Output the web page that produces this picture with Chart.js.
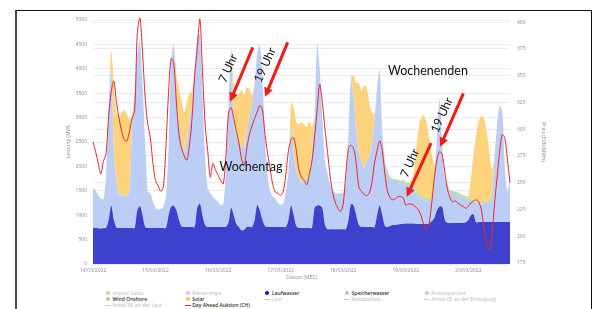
<!DOCTYPE html>
<html>
<head>
<meta charset="utf-8">
<script src="https://cdn.jsdelivr.net/npm/chart.js@4.4.1/dist/chart.umd.min.js"></script>
<style>
  html, body { margin: 0; padding: 0; background: #fff; }
  body { width: 595px; height: 309px; position: relative; overflow: hidden; font-family: 'Open Sans', sans-serif; }
  .frame { position: absolute; left: 15px; top: 10px; width: 574px; height: 320px;
           border-top: 1px solid #111; border-left: 2px solid #4a4a4a; border-right: 1px solid #111; }
  .wrap { position: absolute; left: 0; top: 0; width: 595px; height: 290px; }
  .legend { position: absolute; left: 105px; top: 290px; display: grid;
            grid-template-columns: repeat(5, 79.7px); grid-auto-rows: 6px;
            font-size: 5px; line-height: 6px; font-weight: 600; white-space: nowrap; }
  .legend-item { display: flex; align-items: center; }
  .sym { width: 6px; height: 6px; display: inline-flex; align-items: center; justify-content: center; margin-right: 1.5px; }
  .dot { width: 4px; height: 4px; border-radius: 50%; }
  .dash { width: 6px; height: 1px; }
</style>
</head>
<body>
<div class="frame"></div>
<div class="wrap"><canvas id="mixChart"></canvas></div>
<div class="legend" id="mixLegend"></div>
<script>
// ── DATA (hourly, 14/03/2022 00:00 .. 20/03/2022 16:00) ──
const days = ['14/03/2022', '15/03/2022', '16/03/2022', '17/03/2022', '18/03/2022', '19/03/2022', '20/03/2022'];

const laufwasser = [
  740, 745, 735, 730, 735, 740, 900, 1200, 900, 750, 740, 740, 740, 740, 740, 740, 740, 1100, 1190, 1000, 760, 740, 740, 740,
  740, 740, 740, 740, 740, 1000, 1180, 1190, 1100, 900, 770, 760, 760, 760, 760, 760, 1150, 1240, 1000, 800, 760, 760, 760, 760,
  760, 760, 760, 760, 850, 1150, 1000, 820, 760, 690, 700, 760, 760, 760, 900, 1210, 1100, 900, 780, 760, 760, 760, 760, 760,
  760, 760, 760, 900, 1200, 1000, 780, 740, 740, 740, 740, 740, 740, 1150, 1200, 1200, 1150, 800, 710, 710, 710, 710, 710, 710,
  710, 710, 900, 1230, 1200, 1000, 800, 760, 760, 760, 760, 760, 760, 1000, 1200, 1000, 780, 760, 780, 800, 800, 810, 820, 820,
  830, 830, 830, 830, 820, 820, 820, 820, 820, 830, 880, 950, 1100, 1180, 1170, 900, 840, 840, 840, 840, 840, 840, 840, 850,
  900, 1000, 1020, 850, 860, 860, 860, 860, 860, 860, 860, 860, 860, 860, 860, 860, 860
];

const speicherwasser = [
  806, 765, 665, 610, 585, 1060, 2300, 2800, 1400, 900, 710, 660, 650, 660, 760, 2060, 2760, 3200, 3360, 2700, 1740, 740, 700, 540,
  410, 370, 380, 430, 660, 1400, 3020, 3260, 2300, 2000, 1730, 1540, 1740, 2140, 2540, 3240, 3500, 3460, 2500, 1400, 790, 690, 620, 560,
  500, 440, 470, 1140, 2450, 3150, 1900, 1780, 1740, 1690, 1680, 1940, 2240, 2490, 2800, 3090, 3380, 2900, 1820, 1040, 720, 620, 570, 480,
  450, 470, 740, 1000, 1600, 1300, 1120, 1010, 910, 960, 1010, 1060, 1560, 1850, 3300, 2800, 1850, 1300, 1140, 910, 780, 740, 730, 730,
  760, 990, 1700, 2570, 2200, 1700, 1500, 1340, 1190, 1340, 1440, 1640, 2140, 2600, 2750, 1700, 1320, 1120, 970, 900, 880, 870, 830, 860,
  790, 790, 770, 730, 630, 580, 530, 500, 480, 460, 410, 750, 1500, 2170, 1230, 800, 740, 610, 600, 580, 570, 540, 520, 490,
  400, 280, 250, 410, 380, 380, 380, 390, 410, 490, 1240, 1940, 2340, 2240, 1140, 590, 840
];

const windOnshore = [
  8, 8, 8, 9, 9, 9, 10, 10, 10, 10, 10, 10, 10, 10, 10, 10, 10, 10, 10, 10, 9, 9, 9, 9,
  9, 9, 9, 9, 9, 9, 10, 10, 10, 10, 10, 10, 10, 10, 10, 10, 10, 10, 10, 10, 10, 10, 10, 10,
  10, 10, 10, 10, 10, 10, 10, 10, 10, 10, 10, 10, 10, 10, 10, 10, 10, 10, 10, 10, 10, 10, 10, 10,
  10, 10, 10, 10, 10, 10, 10, 10, 10, 10, 10, 10, 10, 10, 10, 10, 10, 10, 10, 10, 10, 10, 10, 10,
  10, 10, 10, 10, 10, 10, 10, 10, 10, 10, 10, 10, 15, 20, 25, 30, 35, 40, 45, 50, 50, 50, 50, 50,
  50, 50, 50, 50, 45, 40, 40, 40, 40, 40, 40, 40, 40, 40, 45, 50, 55, 60, 60, 60, 60, 55, 55, 50,
  50, 45, 40, 35, 30, 30, 30, 30, 30, 35, 40, 40, 40, 40, 40, 40, 40
];

const solar = [
  0, 0, 0, 0, 0, 0, 0, 350, 1400, 1450, 1550, 1700, 1760, 1650, 1450, 250, 50, 0, 0, 0, 0, 0, 0, 0,
  0, 0, 0, 0, 0, 0, 0, 50, 470, 700, 820, 800, 800, 600, 220, 50, 0, 0, 0, 0, 0, 0, 0, 0,
  0, 0, 0, 0, 0, 100, 800, 800, 1000, 1170, 1070, 900, 580, 200, 50, 0, 0, 0, 0, 0, 0, 0, 0, 0,
  0, 0, 0, 0, 500, 900, 1000, 1100, 1250, 1150, 1050, 1100, 500, 50, 0, 0, 0, 0, 0, 0, 0, 0, 0, 0,
  0, 0, 0, 50, 450, 1000, 1400, 1450, 1700, 1500, 1100, 700, 150, 0, 0, 0, 0, 0, 0, 0, 0, 0, 0, 0,
  0, 0, 50, 240, 850, 1350, 1630, 1680, 1550, 1260, 910, 300, 0, 0, 0, 0, 0, 0, 0, 0, 0, 0, 0, 0,
  50, 420, 930, 1340, 1660, 1760, 1710, 1450, 1030, 550, 50, 0, 0, 0, 0, 0, 0
];

const dayAheadCH = [
  288, 279, 268, 258, 270, 277, 312, 335, 345, 325, 310, 298, 290, 289, 298, 310, 318, 390, 404, 372, 330, 305, 292, 268,
  252, 247, 242, 246, 285, 335, 366, 362, 325, 295, 282, 275, 271, 285, 310, 350, 375, 403, 355, 305, 280, 255, 268, 262,
  257, 252, 249, 275, 315, 320, 310, 298, 287, 272, 266, 282, 295, 303, 310, 316, 322, 318, 295, 277, 262, 248, 241, 240,
  238, 242, 258, 280, 290, 292, 280, 262, 255, 252, 248, 258, 270, 292, 318, 342, 325, 300, 278, 256, 240, 231, 226, 223,
  230, 258, 282, 285, 282, 268, 246, 242, 239, 238, 240, 250, 268, 280, 289, 280, 258, 242, 236, 234, 235, 237, 237, 236,
  229, 230, 230, 229, 227, 224, 218, 210, 206, 212, 232, 255, 272, 279, 276, 260, 244, 236, 232, 233, 231, 229, 228, 226,
  228, 231, 233, 234, 232, 225, 208, 195, 187, 200, 228, 254, 278, 295, 292, 272, 250
];

const labels = laufwasser.map((_, i) => days[Math.floor(i / 24)] + ' ' + String(i % 24).padStart(2, '0') + ':00');

// ── NOTES (hour index, MW on left axis) ──
const arrows = [
  { from: [61.3, 4440], to: [52.6, 3326] },
  { from: [74.7, 4543], to: [66.0, 3428] },
  { from: [129.7, 2479], to: [120.4, 1379] },
  { from: [142.1, 3498], to: [133.2, 2404] }
];
const notes = [
  { text: '7 Uhr', at: [51.9, 4010], angle: -66, size: 12 },
  { text: '19 Uhr', at: [66.0, 4078], angle: -66, size: 12 },
  { text: '7 Uhr', at: [121.6, 2070], angle: -66, size: 12 },
  { text: '19 Uhr', at: [133.9, 3053], angle: -66, size: 12 },
  { text: 'Wochentag', at: [60.6, 1994], angle: 0, size: 12.5 },
  { text: 'Wochenenden', at: [128.5, 3960], angle: 0, size: 12.5 }
];

const notesPlugin = {
  id: 'notes',
  afterDatasetsDraw(chart) {
    const { ctx, scales: { x, y } } = chart;
    ctx.save();
    arrows.forEach(a => {
      const x0 = x.getPixelForValue(a.from[0]), y0 = y.getPixelForValue(a.from[1]);
      const x1 = x.getPixelForValue(a.to[0]), y1 = y.getPixelForValue(a.to[1]);
      const ang = Math.atan2(y1 - y0, x1 - x0);
      const c = Math.cos(ang), s = Math.sin(ang);
      const head = 9, half = 4.5;
      ctx.strokeStyle = '#f21a14';
      ctx.fillStyle = '#f21a14';
      ctx.lineWidth = 3;
      ctx.beginPath();
      ctx.moveTo(x0, y0);
      ctx.lineTo(x1 - head * 0.8 * c, y1 - head * 0.8 * s);
      ctx.stroke();
      ctx.beginPath();
      ctx.moveTo(x1, y1);
      ctx.lineTo(x1 - head * c + half * s, y1 - head * s - half * c);
      ctx.lineTo(x1 - head * c - half * s, y1 - head * s + half * c);
      ctx.closePath();
      ctx.fill();
    });
    ctx.fillStyle = '#111';
    ctx.textAlign = 'center';
    ctx.textBaseline = 'middle';
    notes.forEach(n => {
      ctx.save();
      ctx.translate(x.getPixelForValue(n.at[0]), y.getPixelForValue(n.at[1]));
      ctx.rotate(n.angle * Math.PI / 180);
      ctx.font = n.size + 'px Lato, "Open Sans", sans-serif';
      ctx.fillText(n.text, 0, 0);
      ctx.restore();
    });
    ctx.restore();
  }
};

// ── CHART ──
Chart.defaults.font.family = "'Open Sans', sans-serif";
const tickFont = { size: 5 };
const ctx = document.getElementById('mixChart').getContext('2d');
new Chart(ctx, {
  type: 'line',
  data: {
    labels: labels,
    datasets: [
      { label: 'Day Ahead Auktion (CH)', data: dayAheadCH, yAxisID: 'y1', borderColor: '#e8282d', borderWidth: 1,
        pointRadius: 0, tension: 0.3, fill: false, clip: false },
      { label: 'Laufwasser', data: laufwasser, yAxisID: 'y', borderWidth: 0, backgroundColor: '#3f40cd',
        pointRadius: 0, tension: 0.3, fill: 'origin' },
      { label: 'Speicherwasser', data: speicherwasser, yAxisID: 'y', borderWidth: 0, backgroundColor: '#bccdf6',
        pointRadius: 0, tension: 0.3, fill: '-1' },
      { label: 'Wind Onshore', data: windOnshore, yAxisID: 'y', borderWidth: 0, backgroundColor: '#b9dea4',
        pointRadius: 0, tension: 0.3, fill: '-1' },
      { label: 'Solar', data: solar, yAxisID: 'y', borderWidth: 0, backgroundColor: '#fed37d',
        pointRadius: 0, tension: 0.3, fill: '-1' }
    ]
  },
  options: {
    responsive: true, maintainAspectRatio: false, animation: false,
    layout: { padding: { left: 62, right: 45, top: 20, bottom: 6 } },
    plugins: { legend: { display: false }, tooltip: { enabled: false } },
    scales: {
      x: {
        grid: { display: false, drawTicks: false }, border: { display: false },
        ticks: { autoSkip: false, maxRotation: 0, padding: 4, font: tickFont, color: '#8c8c8c',
                 callback: (v, i) => i % 24 === 0 ? days[i / 24] : '' },
        title: { display: true, text: 'Datum (MEZ)', font: tickFont, color: '#8c8c8c', padding: { top: 0, bottom: 3 } },
        afterFit: s => { s.height = 20; }
      },
      y: {
        stacked: true, min: 0, max: 5000, position: 'left',
        grid: { color: '#ececec', drawTicks: false }, border: { display: false },
        ticks: { stepSize: 500, padding: 6, font: tickFont, color: '#8c8c8c', callback: v => String(v) },
        title: { display: true, text: 'Leistung (MW)', font: tickFont, color: '#8c8c8c' },
        afterFit: s => { s.width = 31; }
      },
      y1: {
        stacked: false, min: 174, max: 402, position: 'right',
        grid: { color: '#ececec', drawTicks: false }, border: { display: false },
        ticks: { stepSize: 25, includeBounds: false, padding: 7, font: tickFont, color: '#8c8c8c' },
        title: { display: true, text: 'Preis (EUR/MWh)', font: tickFont, color: '#8c8c8c' },
        afterFit: s => { s.width = 40; }
      }
    }
  },
  plugins: [notesPlugin]
});

// ── LEGEND ──
const legendItems = [
  { label: 'Import Saldo', color: '#cccccc', kind: 'dot', active: false },
  { label: 'Kernenergie', color: '#cccccc', kind: 'dot', active: false },
  { label: 'Laufwasser', color: '#1010c8', kind: 'dot', active: true },
  { label: 'Speicherwasser', color: '#a9bff5', kind: 'dot', active: true },
  { label: 'Pumpspeicher', color: '#cccccc', kind: 'dot', active: false },
  { label: 'Wind Onshore', color: '#a8d890', kind: 'dot', active: true },
  { label: 'Solar', color: '#fdc64e', kind: 'dot', active: true },
  { label: 'Last', color: '#cccccc', kind: 'dash', active: false },
  { label: 'Residuallast', color: '#cccccc', kind: 'dash', active: false },
  { label: 'Anteil EE an der Erzeugung', color: '#cccccc', kind: 'dash', active: false },
  { label: 'Anteil EE an der Last', color: '#cccccc', kind: 'dash', active: false },
  { label: 'Day Ahead Auktion (CH)', color: '#e8282d', kind: 'dash', active: true }
];
const legendEl = document.getElementById('mixLegend');
legendItems.forEach(d => {
  legendEl.innerHTML += `
    <div class="legend-item" style="color:${d.active ? '#333' : '#c8c8c8'}">
      <span class="sym"><span class="${d.kind}" style="background:${d.color}"></span></span>
      <span>${d.label}</span>
    </div>`;
});
</script>
</body>
</html>
